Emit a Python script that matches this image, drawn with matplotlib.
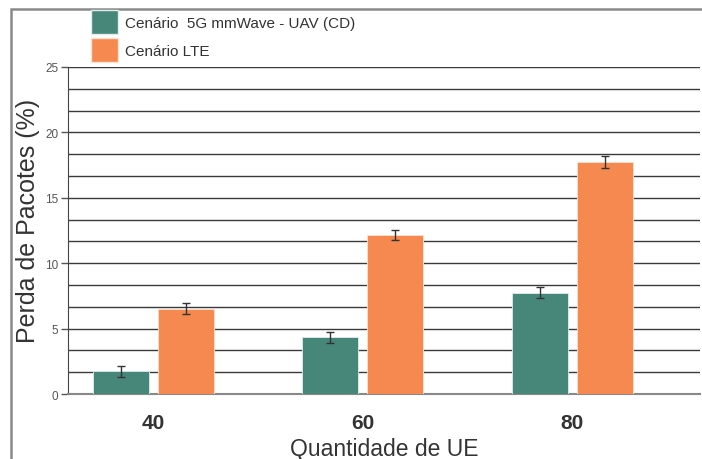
import numpy as np
import matplotlib
matplotlib.use('Agg')
import matplotlib.pyplot as plt
from matplotlib.patches import Patch, Rectangle

plt.rcParams['font.family'] = ['Liberation Sans', 'DejaVu Sans']

# dados
ues = ['40', '60', '80']
perda_5g = [1.75, 4.35, 7.75]
erro_5g = [0.42, 0.42, 0.42]
perda_lte = [6.5, 12.15, 17.75]
erro_lte = [0.42, 0.4, 0.45]
nomes = ['Cenário  5G mmWave - UAV (CD)', 'Cenário LTE']

cor_5g = '#47877a'
cor_lte = '#f5894f'

fig = plt.figure(figsize=(7.02, 4.60), dpi=100)
ax = fig.add_axes([68/702, 1-395/460, 632/702, 327/460])

x = np.arange(len(ues))
w = 0.267
off = 0.155
ax.bar(x - off, perda_5g, w, color=cor_5g, edgecolor='#dfeeea', linewidth=0.6, zorder=3)
ax.bar(x + off, perda_lte, w, color=cor_lte, edgecolor='#fde3d3', linewidth=0.6, zorder=3)
ax.errorbar(x - off, perda_5g, yerr=erro_5g, fmt='none', ecolor='#333333',
            elinewidth=1, capsize=3, capthick=1, zorder=4)
ax.errorbar(x + off, perda_lte, yerr=erro_lte, fmt='none', ecolor='#333333',
            elinewidth=1, capsize=3, capthick=1, zorder=4)

ax.set_ylim(0, 25)
ax.set_xlim(-0.408, 2.61)
ax.set_yticks([0, 5, 10, 15, 20, 25])
ax.set_yticks(np.arange(0, 25.01, 5/3), minor=True)
ax.yaxis.grid(True, which='both', color='#3a3a3a', linewidth=1, zorder=0)
ax.tick_params(axis='y', which='major', labelsize=8.5, labelcolor='#555555',
               color='#555555', length=5, width=1, pad=2)
ax.tick_params(axis='y', which='minor', length=0)
ax.set_xticks(x)
ax.set_xticklabels(ues, fontsize=15, fontweight='bold', color='#333333')
ax.tick_params(axis='x', length=0, pad=14)

for s in ['top', 'right']:
    ax.spines[s].set_visible(False)
ax.spines['left'].set_color('#444444')
ax.spines['bottom'].set_color('#888888')
ax.spines['bottom'].set_linewidth(1.5)

ax.set_xlabel('Quantidade de UE', fontsize=16.5, color='#333333', labelpad=3)
ax.set_ylabel('Perda de Pacotes (%)', fontsize=18, color='#333333')
ax.yaxis.set_label_coords(-0.044, 0.532)

handles = [Patch(facecolor=cor_5g, edgecolor='#dfeeea'),
           Patch(facecolor=cor_lte, edgecolor='#fde3d3')]
fig.legend(handles, nomes, loc='upper left', bbox_to_anchor=(91/702, 1-11/460),
           frameon=False, fontsize=11, handlelength=1.77, handleheight=2.0,
           handletextpad=0.45, labelspacing=0.3, borderpad=0, borderaxespad=0,
           labelcolor='#333333')

# moldura externa cinza
fig.patches.append(Rectangle((11/702, -0.1), 1.1, 1-10/460+0.1, transform=fig.transFigure,
                             fill=False, edgecolor='#8a8a8a', linewidth=1.8))

fig.savefig('out.png', dpi=100)
